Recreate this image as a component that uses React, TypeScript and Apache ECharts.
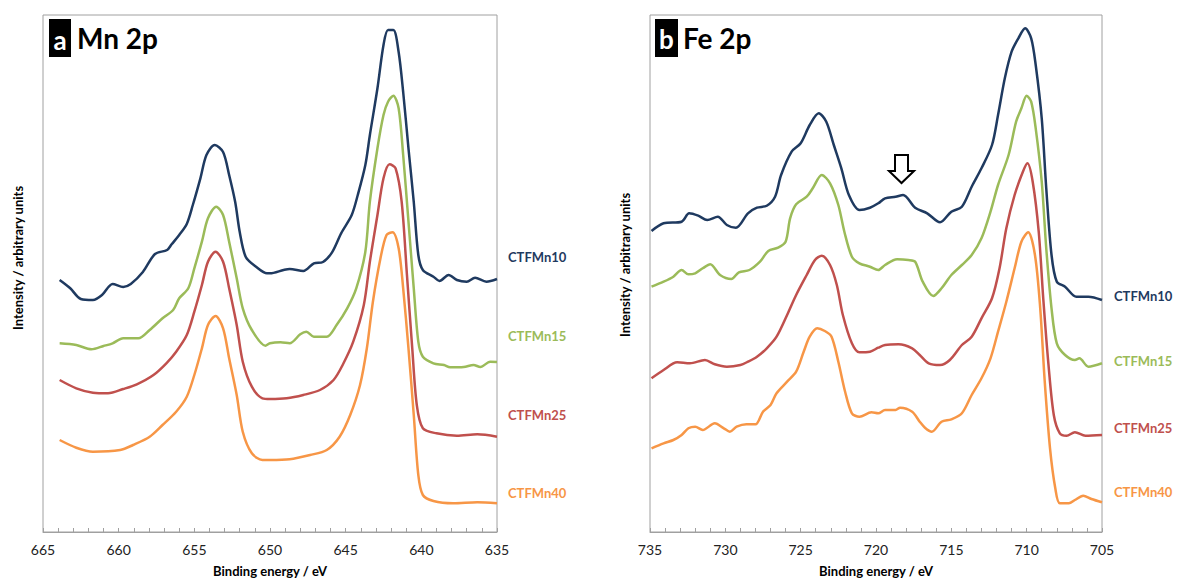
import React, { useEffect, useRef } from "react";
import * as echarts from "echarts";

// Mn 2p spectra: [binding energy (eV), intensity (a.u.)]
const mn10: [number, number][] = [
  [663.9, 252], [663.2, 243.7], [662.5, 233], [661.7, 232], [661.1, 237], [660.4, 248], [659.7, 245],
  [659.2, 248], [658.4, 260], [657.6, 278], [656.8, 282], [656.5, 287.7], [656.0, 297], [655.5, 308],
  [655.1, 327], [654.6, 353.7], [654.2, 377], [653.65, 387], [653.1, 380], [652.7, 357], [652.3, 330],
  [652.0, 300], [651.6, 275], [650.9, 265], [650.2, 258.7], [650.0, 258.7], [649.1, 262], [648.7, 263],
  [647.8, 261], [647.1, 268.7], [646.5, 270], [645.9, 279.7], [645.3, 298.7], [644.6, 317], [644.2, 337],
  [643.7, 367], [643.4, 397], [642.9, 443.7], [642.5, 487], [642.2, 502], [641.85, 502], [641.5, 480],
  [641.2, 440], [640.85, 383.7], [640.5, 330], [640.2, 277], [639.9, 262], [639.2, 255.3], [638.8, 251],
  [638.2, 257], [637.65, 252], [637.0, 250.3], [636.45, 254.3], [635.7, 250.3], [635.0, 253],
];
const mn15: [number, number][] = [
  [663.9, 188.7], [662.8, 187], [661.8, 182.7], [661.0, 186], [660.4, 188.7], [659.7, 193.7], [658.7, 193.7],
  [657.95, 202], [657.1, 213.7], [656.4, 222], [656.0, 233.7], [655.4, 243.7], [655.0, 263.7], [654.5, 290.3],
  [654.1, 313.7], [653.55, 325.3], [653.1, 317], [652.7, 290.3], [652.2, 253.7], [651.8, 223.7], [651.2, 202],
  [650.3, 186.3], [650.0, 188.7], [649.3, 189.7], [648.7, 188.7], [648.0, 197.7], [647.6, 200.3], [647.1, 195.3],
  [646.25, 195.3], [645.6, 207], [644.9, 223.7], [644.3, 243.7], [643.7, 280.3], [643.4, 330.3], [642.9, 383.7],
  [642.5, 417], [642.2, 430.3], [641.85, 436.3], [641.5, 423.7], [641.2, 377], [640.85, 310.3], [640.5, 243.7],
  [640.2, 190.3], [639.9, 175.3], [639.2, 168.7], [638.5, 167], [638.1, 164.7], [637.2, 165], [636.55, 167],
  [636.1, 165], [635.45, 170.3], [635.0, 170],
];
const mn25: [number, number][] = [
  [663.9, 152], [662.8, 143.7], [661.7, 139.3], [660.7, 138.7], [659.7, 143], [658.8, 147.7], [657.7, 157],
  [656.85, 168.7], [656.2, 180.3], [655.5, 197], [655.0, 220.3], [654.5, 247], [654.1, 270.3], [653.6, 280.3],
  [653.1, 270.3], [652.7, 243.7], [652.2, 207], [651.8, 170.3], [651.2, 145.3], [650.5, 133.7], [650.0, 133],
  [648.9, 133.7], [647.8, 137], [646.7, 142], [645.8, 152], [645.2, 167], [644.5, 190.3], [643.8, 227],
  [643.4, 270.3], [642.9, 317], [642.5, 353.7], [642.1, 367.7], [641.7, 363.7], [641.3, 330.3], [640.95, 257],
  [640.6, 183.7], [640.3, 127], [639.9, 103.7], [639.0, 98.7], [637.65, 96.3], [636.3, 97.7], [635.0, 95.3],
];
const mn40: [number, number][] = [
  [663.9, 92], [662.8, 84.3], [661.7, 80.3], [659.9, 82], [659.05, 87], [657.95, 95.3], [657.1, 107],
  [656.2, 120.3], [655.5, 135.3], [655.0, 157], [654.5, 183.7], [654.1, 207], [653.6, 216], [653.1, 203.7],
  [652.7, 173.7], [652.2, 137], [651.8, 100.3], [651.2, 78.7], [650.5, 72], [650.0, 72], [648.7, 72.7],
  [647.35, 77], [646.25, 82], [645.4, 95.3], [644.7, 117], [644.05, 147], [643.6, 183.7], [643.2, 230.3],
  [642.7, 273.7], [642.3, 297], [641.9, 299.7], [641.5, 283.7], [641.2, 243.7], [640.85, 183.7], [640.5, 117],
  [640.2, 57], [639.9, 37], [639.2, 31], [637.9, 28.7], [636.3, 29.7], [635.0, 28.7],
];

// Fe 2p spectra: [binding energy (eV), intensity (a.u.)]
const fe10: [number, number][] = [
  [734.9, 301], [734.1, 308.7], [732.9, 310.3], [732.4, 318.7], [731.8, 316.3], [731.2, 312], [730.5, 315.3],
  [729.9, 307], [729.3, 304.3], [728.5, 318.7], [727.9, 324.3], [727.25, 326.3], [726.7, 335.3], [726.3, 357],
  [725.6, 380.3], [725.0, 388.7], [724.4, 407], [723.8, 418.7], [723.3, 410.3], [722.8, 387], [722.3, 363.7],
  [721.8, 337], [721.1, 322], [720.4, 324.3], [719.85, 328.7], [719.4, 333.7], [718.7, 335.3], [718.2, 337],
  [717.4, 324.3], [716.6, 318.7], [715.75, 309.7], [715.0, 320.3], [714.3, 325.3], [713.65, 345.3], [713.0, 363.7],
  [712.3, 387], [711.9, 417], [711.45, 453.7], [711.0, 480.3], [710.55, 493.7], [710.1, 503.7], [709.7, 493.7],
  [709.4, 467], [709.0, 413.7], [708.7, 343.7], [708.35, 277], [708.0, 250.3], [707.45, 245.3], [706.7, 235.3],
  [705.9, 235.3], [705.0, 232],
];
const fe15: [number, number][] = [
  [734.9, 245.3], [734.1, 250.3], [733.45, 255.3], [732.9, 262], [732.45, 257.7], [732.0, 258.7], [731.5, 263.7],
  [731.0, 267.7], [730.35, 257], [729.6, 253], [729.1, 259.7], [728.4, 262], [727.7, 270.3], [727.15, 281],
  [726.5, 284.3], [726.0, 290.3], [725.7, 313.7], [725.3, 327.7], [724.6, 335.3], [724.2, 343.7], [723.6, 357],
  [723.05, 348.7], [722.5, 327], [722.1, 300.3], [721.6, 275.3], [721.1, 268.7], [720.4, 265.3], [719.85, 262],
  [719.4, 267], [718.6, 272.7], [717.85, 272], [717.4, 270.3], [716.9, 250.3], [716.2, 236], [715.65, 243.7],
  [715.0, 257], [714.3, 267], [713.65, 277], [713.0, 293.7], [712.4, 320.3], [711.9, 347], [711.2, 377],
  [710.7, 410.3], [710.35, 423.7], [710.0, 436.3], [709.7, 430.3], [709.4, 403.7], [709.0, 350.3], [708.7, 283.7],
  [708.35, 223.7], [708.0, 188.7], [707.45, 177], [706.8, 172], [706.5, 173.7], [705.9, 165.3], [705.0, 168.7],
];
const fe25: [number, number][] = [
  [734.9, 153.7], [734.1, 162], [733.2, 169.7], [732.35, 168.7], [731.35, 172], [730.7, 167.7], [729.9, 165.3],
  [729.0, 167], [728.5, 170.3], [727.9, 175.3], [727.25, 183.7], [726.6, 195.3], [725.9, 217], [725.3, 237],
  [724.6, 257], [724.05, 272], [723.6, 276.3], [723.05, 267], [722.6, 247], [722.2, 217], [721.6, 188.7],
  [721.1, 179.7], [720.4, 180.3], [719.85, 184.3], [719.4, 187], [718.5, 187.7], [717.6, 183.7], [717.1, 177],
  [716.5, 168.7], [715.75, 167], [715.1, 172], [714.3, 187], [713.65, 195.3], [713.0, 213.7], [712.3, 233.7],
  [711.8, 263.7], [711.35, 303.7], [710.8, 337], [710.25, 360.3], [709.95, 368.7], [709.6, 350.3], [709.2, 300.3],
  [708.9, 233.7], [708.55, 167], [708.2, 117], [707.8, 98.7], [707.35, 96.3], [706.8, 99.7], [706.1, 96.3],
  [705.0, 97],
];
const fe40: [number, number][] = [
  [734.9, 83.7], [734.1, 88.7], [733.45, 92], [732.9, 97], [732.45, 103.7], [732.0, 105.3], [731.5, 102],
  [730.7, 108.7], [730.1, 103.7], [729.7, 100.3], [729.25, 105.3], [728.6, 107.7], [728.0, 107.7], [727.5, 120.3],
  [727.0, 127], [726.6, 138.7], [725.9, 150.3], [725.3, 160.3], [724.8, 180.3], [724.4, 195.3], [723.9, 203.7],
  [723.4, 201], [722.95, 195.3], [722.5, 170.3], [722.05, 140.3], [721.6, 118.7], [721.1, 115.3], [720.3, 119.7],
  [719.85, 118.7], [719.4, 122], [718.7, 122], [718.4, 124.3], [717.6, 120.3], [717.1, 110.3], [716.75, 104.3],
  [716.3, 100.3], [715.65, 110.3], [715.0, 112.7], [714.3, 118.7], [713.65, 137], [713.0, 153.7], [712.4, 173.7],
  [711.9, 200.3], [711.35, 230.3], [710.8, 263.7], [710.35, 290.3], [709.9, 299.7], [709.45, 277], [709.1, 223.7],
  [708.8, 150.3], [708.45, 83.7], [708.1, 43.7], [707.8, 28.7], [707.2, 28.7], [706.8, 32], [706.25, 36.3],
  [705.7, 33], [705.0, 29.7],
];

const sampleNames = ["CTFMn10", "CTFMn15", "CTFMn25", "CTFMn40"];
const colors = ["#1f3a60", "#9bbb59", "#c0504d", "#f79646"];
const mnTickLabels = [665, 660, 655, 650, 645, 640, 635];
const feTickLabels = [735, 730, 725, 720, 715, 710, 705];

const FONT = "Lato, 'Open Sans', sans-serif";

export default function App() {
  const ref = useRef<HTMLDivElement>(null);
  useEffect(() => {
    if (!ref.current) return;
    const chart = echarts.init(ref.current, undefined, { renderer: "svg" });
    const mnSeries = [mn10, mn15, mn25, mn40];
    const feSeries = [fe10, fe15, fe25, fe40];

    const xAxisBase = (min: number, max: number, ticks: number[]) => ({
      type: "value" as const,
      inverse: true,
      min,
      max,
      interval: 1,
      name: "Binding energy / eV",
      nameLocation: "middle" as const,
      nameGap: 32,
      nameTextStyle: { fontFamily: FONT, fontWeight: "bold" as const, fontSize: 13, color: "#000" },
      axisLine: { show: true, lineStyle: { color: "#a0a0a0", width: 1 } },
      axisTick: { show: true, inside: true, length: 4, lineStyle: { color: "#a0a0a0" } },
      splitLine: { show: false },
      axisLabel: {
        fontFamily: FONT,
        fontSize: 14,
        color: "#222",
        margin: 10,
        showMinLabel: true,
        showMaxLabel: true,
        formatter: (v: number) => (ticks.indexOf(Math.round(v)) >= 0 && Math.abs(v - Math.round(v)) < 1e-6 ? String(Math.round(v)) : ""),
      },
    });

    const yAxisBase = {
      type: "value" as const,
      min: 0,
      max: 517,
      axisLine: { show: false },
      axisTick: { show: false },
      axisLabel: { show: false },
      splitLine: { show: false },
    };

    const series: any[] = [];
    mnSeries.forEach((d, i) =>
      series.push({
        type: "line",
        name: sampleNames[i] + " Mn",
        xAxisIndex: 0,
        yAxisIndex: 0,
        data: d,
        showSymbol: false,
        smooth: 0.3,
        lineStyle: { color: colors[i], width: 2.5 },
        z: 10 - i,
      })
    );
    feSeries.forEach((d, i) =>
      series.push({
        type: "line",
        name: sampleNames[i] + " Fe",
        xAxisIndex: 1,
        yAxisIndex: 1,
        data: d,
        showSymbol: false,
        smooth: 0.3,
        lineStyle: { color: colors[i], width: 2.5 },
        z: 10 - i,
      })
    );

    const leftLabelY = [258, 337, 416, 494];
    const rightLabelY = [297, 362, 429, 493];
    const graphics: any[] = [];
    sampleNames.forEach((n, i) => {
      graphics.push({
        type: "text",
        left: 508,
        top: leftLabelY[i] - 8,
        style: { text: n, fill: colors[i], font: `bold 13px ${FONT}` },
      });
      graphics.push({
        type: "text",
        left: 1114,
        top: rightLabelY[i] - 8,
        style: { text: n, fill: colors[i], font: `bold 13px ${FONT}` },
      });
    });
    // y axis titles
    graphics.push({
      type: "text",
      x: 18,
      y: 258,
      rotation: Math.PI / 2,
      style: { text: "Intensity / arbitrary units", fill: "#000", font: `bold 13px ${FONT}`, align: "center", verticalAlign: "middle" },
    });
    graphics.push({
      type: "text",
      x: 625,
      y: 265,
      rotation: Math.PI / 2,
      style: { text: "Intensity / arbitrary units", fill: "#000", font: `bold 13px ${FONT}`, align: "center", verticalAlign: "middle" },
    });
    // panel tags
    graphics.push({ type: "rect", shape: { x: 49, y: 19, width: 22, height: 38 }, style: { fill: "#000" } });
    graphics.push({
      type: "text",
      style: { text: "a", x: 60, y: 40, fill: "#fff", font: `bold 26px ${FONT}`, align: "center", verticalAlign: "middle" },
    });
    graphics.push({
      type: "text",
      style: { text: "Mn 2p", x: 77, y: 38, fill: "#000", font: `bold 28px ${FONT}`, verticalAlign: "middle" },
    });
    graphics.push({ type: "rect", shape: { x: 655, y: 19, width: 23, height: 38 }, style: { fill: "#000" } });
    graphics.push({
      type: "text",
      style: { text: "b", x: 666.5, y: 39, fill: "#fff", font: `bold 26px ${FONT}`, align: "center", verticalAlign: "middle" },
    });
    graphics.push({
      type: "text",
      style: { text: "Fe 2p", x: 683, y: 38, fill: "#000", font: `bold 28px ${FONT}`, verticalAlign: "middle" },
    });
    // hollow down arrow marking the satellite
    graphics.push({
      type: "polygon",
      shape: {
        points: [
          [895, 155], [908, 155], [908, 171], [914, 171], [901.5, 183], [889, 171], [895, 171],
        ],
      },
      style: { fill: "#fff", stroke: "#000", lineWidth: 2 },
      z: 100,
    });

    chart.setOption({
      animation: false,
      backgroundColor: "#fff",
      grid: [
        { left: 43, top: 15, width: 454, height: 517, outerBoundsMode: "none", containLabel: false, show: true, borderColor: "#a0a0a0", borderWidth: 1, backgroundColor: "transparent" },
        { left: 650, top: 15, width: 452, height: 517, outerBoundsMode: "none", containLabel: false, show: true, borderColor: "#a0a0a0", borderWidth: 1, backgroundColor: "transparent" },
      ],
      xAxis: [
        { ...xAxisBase(635, 665, mnTickLabels), gridIndex: 0 },
        { ...xAxisBase(705, 735, feTickLabels), gridIndex: 1 },
      ],
      yAxis: [
        { ...yAxisBase, gridIndex: 0 },
        { ...yAxisBase, gridIndex: 1 },
      ],
      series,
      graphic: graphics,
    });
    return () => chart.dispose();
  }, []);
  return (
    <div
      ref={ref}
      style={{ position: "absolute", left: 0, top: 0, width: 1179, height: 582 }}
    />
  );
}
